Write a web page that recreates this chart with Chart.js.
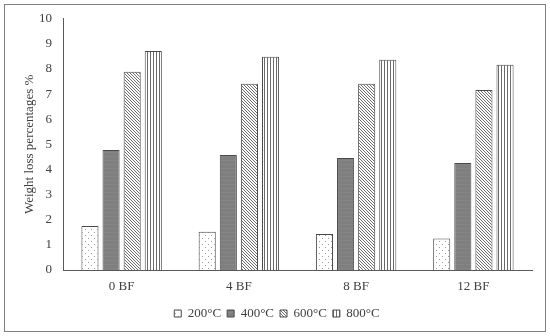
<!DOCTYPE html>
<html><head><meta charset="utf-8">
<script src="https://cdn.jsdelivr.net/npm/chart.js@4.4.1/dist/chart.umd.min.js"></script>
<style>html,body{margin:0;padding:0;background:#fff}#wrap{width:550px;height:336px;position:relative}</style>
</head><body><div id="wrap"><canvas id="c" width="550" height="336"></canvas></div>
<script>
const categories = ["0 BF", "4 BF", "8 BF", "12 BF"];
const seriesNames = ["200°C", "400°C", "600°C", "800°C"];
const s200 = [1.75, 1.52, 1.43, 1.25];
const s400 = [4.78, 4.58, 4.46, 4.26];
const s600 = [7.89, 7.41, 7.41, 7.17];
const s800 = [8.72, 8.49, 8.37, 8.17];
const yTicks = [0,1,2,3,4,5,6,7,8,9,10];

function mkPattern(kind){
  const c = document.createElement('canvas');
  const x = c.getContext('2d');
  if(kind==='dots'){
    c.width=6;c.height=6;x.fillStyle='#fff';x.fillRect(0,0,6,6);
    x.fillStyle='#9a9a9a';x.fillRect(1,1,1,1);x.fillRect(4,4,1,1);
  } else if(kind==='solid'){
    c.width=4;c.height=4;x.fillStyle='#7f7f7f';x.fillRect(0,0,4,4);
    x.fillStyle='#858585';x.fillRect(0,0,4,1);
  } else if(kind==='diag'){
    c.width=3;c.height=3;x.fillStyle='#fff';x.fillRect(0,0,3,3);
    x.fillStyle='#6a6a6a';
    for(let i=0;i<3;i++){x.fillRect(i,i,1,1);}
  } else if(kind==='vert'){
    c.width=3;c.height=3;x.fillStyle='#fff';x.fillRect(0,0,3,3);
    x.fillStyle='#6a6a6a';x.fillRect(0,0,1,3);
  }
  return document.getElementById('c').getContext('2d').createPattern(c,'repeat');
}
const fills = [mkPattern('dots'), mkPattern('solid'), mkPattern('diag'), mkPattern('vert')];
const values = [s200, s400, s600, s800];

const borderPlugin = {
  id:'outerBorder',
  afterLayout(chart){
    if(chart.legend){chart.legend.left += 11; chart.legend.right += 11;}
  },
  afterDraw(chart){
    const ctx = chart.ctx; ctx.save();
    ctx.strokeStyle='#7f7f7f'; ctx.lineWidth=1;
    ctx.strokeRect(4.5,4.5,541,327);
    ctx.restore();
  }
};

new Chart(document.getElementById('c'), {
  type:'bar',
  data:{
    labels: categories,
    datasets: seriesNames.map((n,i)=>({
      label:n, data:values[i], backgroundColor:fills[i],
      borderColor:'#4a4a4a', borderWidth:1,
      categoryPercentage:0.72, barPercentage:0.81
    }))
  },
  options:{
    responsive:false, animation:false,
    layout:{padding:{left:0,right:18,top:14,bottom:6}},
    plugins:{
      tooltip:{enabled:false},
      legend:{position:'bottom',
        labels:{boxWidth:7,boxHeight:7,padding:6,color:'#404040',
          font:{family:'Liberation Serif',size:13}}}
    },
    scales:{
      x:{
        grid:{display:false,drawTicks:false},
        border:{display:true,color:'#5a5a5a',width:1},
        ticks:{color:'#404040',padding:9,font:{family:'Liberation Serif',size:13}},
        afterFit(s){s.height=31;}
      },
      y:{
        min:0,max:10,
        afterBuildTicks(s){s.ticks=yTicks.map(v=>({value:v}));},
        grid:{display:false,drawTicks:false},
        border:{display:true,color:'#5a5a5a',width:1},
        ticks:{color:'#404040',padding:11,font:{family:'Liberation Serif',size:13}},
        title:{display:true,text:'Weight loss percentages %',color:'#404040',
          font:{family:'Liberation Serif',size:13},padding:{top:22,bottom:0}},
        afterFit(s){s.width=63;}
      }
    }
  },
  plugins:[borderPlugin]
});
</script></body></html>
